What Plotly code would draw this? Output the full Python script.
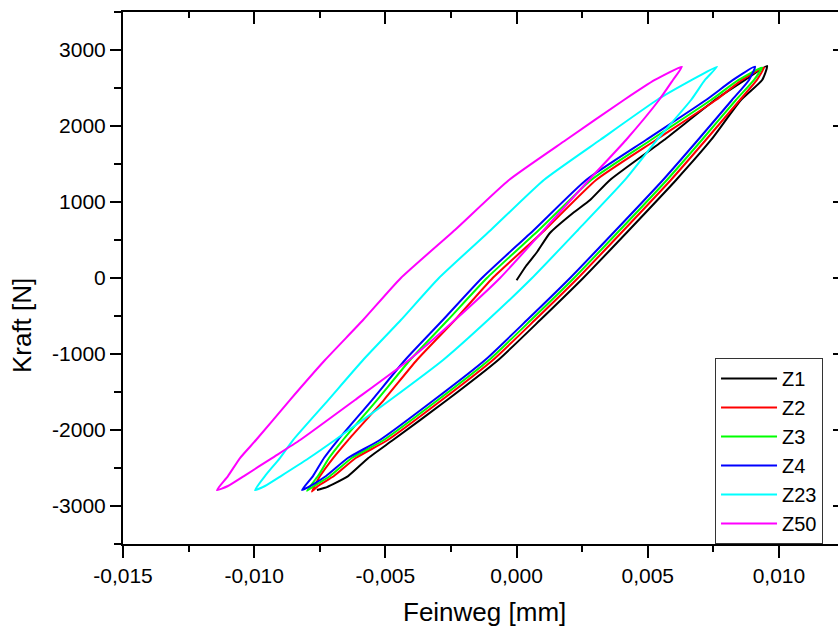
import plotly.graph_objects as go

# ---- data ----
loop_y = [-2790, -2606, -2369, -2132, -1606, -1079, -553, 0, 632, 1290, 1816, 2342, 2606, 2780,
          2606, 2342, 1816, 1290, 632, 0, -553, -1079, -1606, -2132, -2369, -2606, -2737, -2790]

z4_x = [-0.00818, -0.00776, -0.00734, -0.00681, -0.00551, -0.00425, -0.00281, -0.00132, 0.00066, 0.00265,
        0.00493, 0.00722, 0.00825, 0.00909, 0.00886, 0.00821, 0.00691, 0.00558, 0.00379, 0.00204,
        0.00040, -0.00120, -0.00315, -0.00521, -0.00643, -0.00726, -0.00787, -0.00818]
z4_y = loop_y

z3_x = [-0.00799, -0.00757, -0.00715, -0.00662, -0.00532, -0.00406, -0.00262, -0.00113, 0.00085, 0.00284,
        0.00512, 0.00741, 0.00846, 0.00935, 0.00905, 0.00836, 0.00706, 0.00573, 0.00394, 0.00219,
        0.00055, -0.00105, -0.00300, -0.00506, -0.00628, -0.00711, -0.00772, -0.00799]
z3_y = [-2800, -2606, -2369, -2132, -1606, -1079, -553, 0, 632, 1290, 1816, 2342, 2606, 2770,
        2606, 2342, 1816, 1290, 632, 0, -553, -1079, -1606, -2132, -2369, -2606, -2737, -2800]

z2_x = [-0.00780, -0.00749, -0.00699, -0.00642, -0.00506, -0.00380, -0.00235, -0.00091, 0.00108, 0.00303,
        0.00531, 0.00760, 0.00859, 0.00943, 0.00916, 0.00851, 0.00721, 0.00588, 0.00409, 0.00234,
        0.00070, -0.00090, -0.00285, -0.00491, -0.00613, -0.00696, -0.00757, -0.00780]
z2_y = [-2810, -2606, -2369, -2132, -1606, -1079, -553, 0, 632, 1290, 1816, 2342, 2606, 2770,
        2606, 2342, 1816, 1290, 632, 0, -553, -1079, -1606, -2132, -2369, -2606, -2737, -2810]

z1_x = [0.0, 0.00036, 0.00078, 0.00127, 0.00215, 0.00280, 0.00356, 0.00562, 0.00756, 0.00871, 0.00955,
        0.00936, 0.00855, 0.00741, 0.00608, 0.00429, 0.00254, 0.00090, -0.00070, -0.00265, -0.00471,
        -0.00565, -0.00642, -0.00699, -0.00730, -0.00761]
z1_y = [-30, 158, 342, 592, 855, 1026, 1290, 1816, 2342, 2606, 2790,
        2606, 2342, 1816, 1290, 632, 0, -553, -1079, -1606, -2132,
        -2369, -2606, -2711, -2760, -2790]

z23_x = [-0.00997, -0.00959, -0.00902, -0.00852, -0.00718, -0.00585, -0.00441, -0.00296, -0.00098, 0.00104,
         0.00318, 0.00535, 0.00668, 0.00764, 0.00718, 0.00665, 0.00535, 0.00413, 0.00234, 0.00059,
         -0.00109, -0.00280, -0.00482, -0.00692, -0.00791, -0.00898, -0.00959, -0.00997]
z23_y = loop_y

z50_x = [-0.01142, -0.01100, -0.01054, -0.00993, -0.00864, -0.00730, -0.00585, -0.00441, -0.00235, -0.00029,
         0.00188, 0.00409, 0.00527, 0.00630, 0.00596, 0.00543, 0.00417, 0.00276, 0.00104, -0.00063,
         -0.00235, -0.00410, -0.00616, -0.00825, -0.00932, -0.01039, -0.01100, -0.01142]
z50_y = loop_y

series_names = ["Z1", "Z2", "Z3", "Z4", "Z23", "Z50"]
series_colors = ["#000000", "#FF0000", "#00FF00", "#0000FF", "#00FFFF", "#FF00FF"]

x_tickvals = [-0.015, -0.010, -0.005, 0.000, 0.005, 0.010]
x_ticktext = ["-0,015", "-0,010", "-0,005", "0,000", "0,005", "0,010"]
y_tickvals = [-3000, -2000, -1000, 0, 1000, 2000, 3000]
y_ticktext = ["-3000", "-2000", "-1000", "0", "1000", "2000", "3000"]

x_title = "Feinweg [mm]"
y_title = "Kraft [N]"

# ---- figure ----
FONT = "Arial, Liberation Sans, sans-serif"
fig = go.Figure()
xs = [z1_x, z2_x, z3_x, z4_x, z23_x, z50_x]
ys = [z1_y, z2_y, z3_y, z4_y, z23_y, z50_y]
for name, col, x, y in zip(series_names, series_colors, xs, ys):
    fig.add_trace(go.Scatter(x=x, y=y, mode="lines", name=name,
                             line=dict(color=col, width=2, shape="spline", smoothing=0.5)))

# dummy trace for top/right tick axes
fig.add_trace(go.Scatter(x=[None], y=[None], xaxis="x2", yaxis="y2", showlegend=False,
                         hoverinfo="skip"))

xr = [-0.015, 0.01225]
yr = [-3500, 3500]

fig.update_layout(
    width=838, height=629,
    margin=dict(l=123, r=0, t=12, b=85),
    paper_bgcolor="white", plot_bgcolor="white",
    font=dict(family=FONT, size=21, color="black"),
    xaxis=dict(range=xr, tickmode="array", tickvals=x_tickvals, ticktext=x_ticktext,
               ticks="outside", ticklen=12, tickwidth=2, tickcolor="black",
               minor=dict(dtick=0.0025, tick0=0, ticks="outside", ticklen=6, tickwidth=2,
                          tickcolor="black", showgrid=False),
               showline=True, linewidth=2, linecolor="black", mirror=True,
               showgrid=False, zeroline=False, tickfont=dict(size=21)),
    yaxis=dict(range=yr, tickmode="array", tickvals=y_tickvals, ticktext=y_ticktext,
               ticks="outside", ticklen=11, tickwidth=2, tickcolor="black",
               minor=dict(dtick=500, tick0=0, ticks="outside", ticklen=7, tickwidth=2,
                          tickcolor="black", showgrid=False),
               showline=True, linewidth=2, linecolor="black", mirror=False,
               showgrid=False, zeroline=False, tickfont=dict(size=21)),
    xaxis2=dict(range=xr, overlaying="x", side="top", tickmode="array", tickvals=x_tickvals,
                ticks="inside", ticklen=12, tickwidth=2, tickcolor="black",
                minor=dict(dtick=0.0025, tick0=0, ticks="inside", ticklen=6, tickwidth=2,
                           tickcolor="black", showgrid=False),
                showticklabels=False, showline=False, showgrid=False, zeroline=False),
    yaxis2=dict(range=yr, overlaying="y", side="right", tickmode="array", tickvals=y_tickvals,
                ticks="inside", ticklen=5, tickwidth=2, tickcolor="black",
                showticklabels=False, showline=False, showgrid=False, zeroline=False),
    legend=dict(x=0.828, y=0.3496, xanchor="left", yanchor="top",
                bgcolor="white", bordercolor="#333333", borderwidth=1,
                font=dict(size=20), itemwidth=56, tracegroupgap=0),
    showlegend=True,
    annotations=[
        dict(text=x_title, xref="paper", yref="paper", x=0.506, y=-0.128,
             xanchor="center", yanchor="middle", showarrow=False, font=dict(size=26)),
        dict(text=y_title, xref="paper", yref="paper", x=-0.141, y=0.41,
             xanchor="center", yanchor="middle", showarrow=False, textangle=-90,
             font=dict(size=26)),
    ],
)

fig.write_html("out.html")
